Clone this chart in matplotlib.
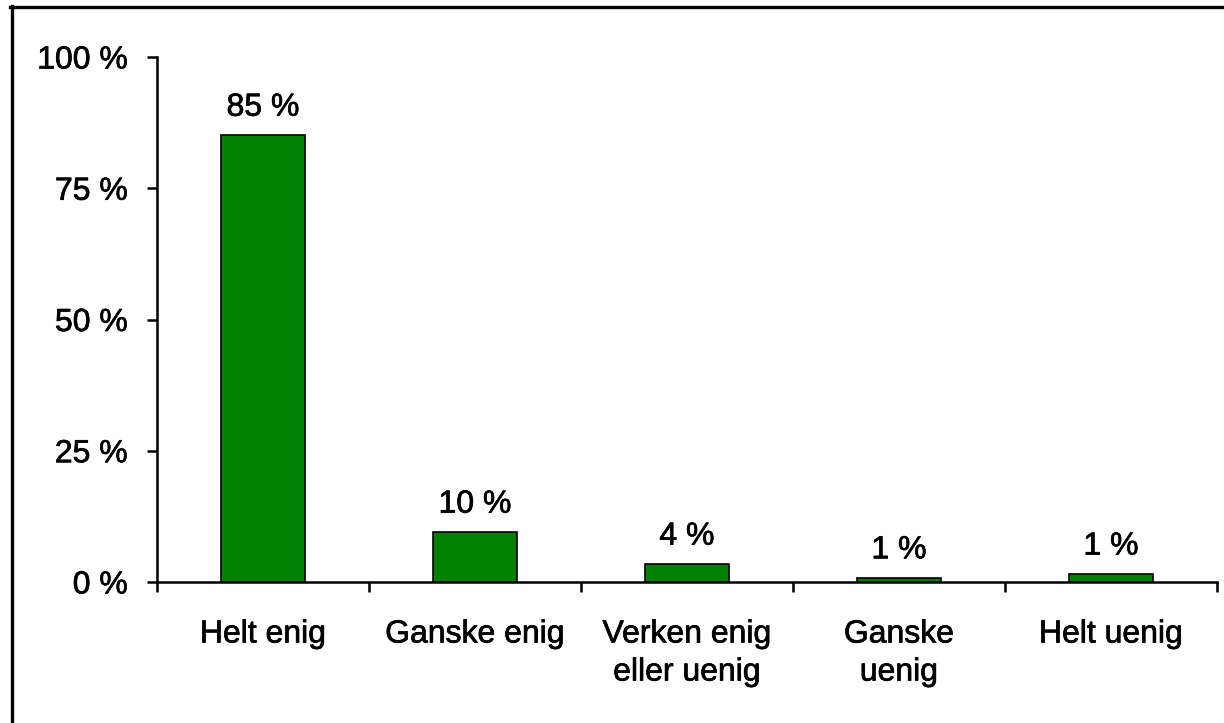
import matplotlib
matplotlib.use("Agg")
import matplotlib.pyplot as plt
import matplotlib.patheffects as pe
from matplotlib.lines import Line2D
import numpy as np

categories = ["Helt enig", "Ganske enig", "Verken enig\neller uenig", "Ganske\nuenig", "Helt uenig"]
values = [85.1, 9.5, 3.4, 0.8, 1.5]
labels = ["85 %", "10 %", "4 %", "1 %", "1 %"]
yticks = [0, 25, 50, 75, 100]

plt.rcParams['font.family'] = ['Liberation Sans', 'DejaVu Sans']
heavy = [pe.withStroke(linewidth=0.5, foreground="black")]

fig = plt.figure(figsize=(12.24, 7.23), dpi=100)
ax = fig.add_axes([157/1224, 1 - 582/723, (1217 - 157)/1224, (582 - 57)/723])

x = np.arange(len(categories))
bars = ax.bar(x, values, width=0.4, color="#008000", edgecolor="black", linewidth=1.2)

for b, lab in zip(bars, labels):
    ax.annotate(lab, (b.get_x() + b.get_width()/2, b.get_height()),
                xytext=(0, 9), textcoords="offset points",
                ha="center", va="bottom", fontsize=23, path_effects=heavy)

ax.set_xlim(-0.5, len(categories) - 0.5)
ax.set_ylim(0, 100)
ax.set_yticks(yticks)
ax.set_yticklabels([f"{v} %" for v in yticks])
ax.set_xticks(x)
ax.set_xticklabels(categories, linespacing=1.35)
ax.set_xticks(np.arange(-0.5, len(categories)), minor=True)

ax.tick_params(axis="x", which="major", length=0, pad=27, labelsize=23)
ax.tick_params(axis="x", which="minor", length=7, width=1.8, direction="out")
ax.tick_params(axis="y", length=7, width=1.8, pad=14, labelsize=23)
for t in ax.get_xticklabels() + ax.get_yticklabels():
    t.set_path_effects(heavy)

for s in ["top", "right"]:
    ax.spines[s].set_visible(False)
for s in ["left", "bottom"]:
    ax.spines[s].set_linewidth(1.8)

# outer frame, only top and left edges show in the picture
fig.add_artist(Line2D([11.5/1224, 11.5/1224], [0, 1 - 5.5/723], transform=fig.transFigure, color="black", lw=2.4))
fig.add_artist(Line2D([10/1224, 1], [1 - 6.5/723, 1 - 6.5/723], transform=fig.transFigure, color="black", lw=2.4))

fig.savefig("out.png", dpi=100)
